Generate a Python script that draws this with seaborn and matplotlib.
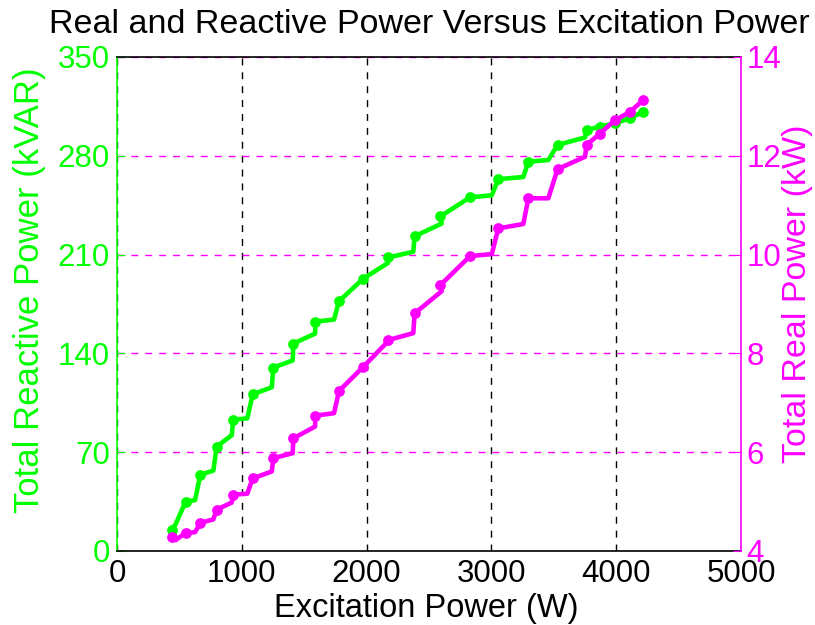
import numpy as np
import pandas as pd
import matplotlib
matplotlib.use("Agg")
import matplotlib.pyplot as plt
import seaborn as sns

# ---- data ----
excitation_w = [440, 470, 550, 625, 668, 772, 799, 919, 932, 1044, 1087, 1240, 1253,
                1408, 1413, 1587, 1590, 1739, 1779, 1974, 2170, 2174, 2374, 2385,
                2602, 2590, 2829, 3003, 3055, 3256, 3296, 3456, 3530, 3750, 3763,
                3870, 3990, 4111, 4217]
reactive_kvar = [15, 19, 35, 36, 54, 57, 74, 82, 93, 94, 111, 116, 130,
                 135, 147, 154, 162.5, 164, 177, 193, 204, 208, 212, 223,
                 232, 237, 250.6, 252, 263.4, 265, 275.8, 277, 287.7, 293, 298.3,
                 300.7, 303, 306.6, 311.3]
real_kw = [4.29, 4.22, 4.37, 4.38, 4.57, 4.64, 4.84, 4.98, 5.14, 5.16, 5.47, 5.61, 5.88,
           5.98, 6.28, 6.52, 6.74, 6.79, 7.24, 7.73, 8.24, 8.27, 8.41, 8.81,
           9.26, 9.38, 9.97, 10.01, 10.53, 10.62, 11.14, 11.14, 11.73, 11.98, 12.22,
           12.45, 12.72, 12.89, 13.13]
marked = [1, 0, 1, 0, 1, 0, 1, 0, 1, 0, 1, 0, 1,
          0, 1, 0, 1, 0, 1, 1, 0, 1, 0, 1,
          0, 1, 1, 0, 1, 0, 1, 0, 1, 0, 1,
          1, 1, 1, 1]

x_ticks = [0, 1000, 2000, 3000, 4000, 5000]
left_ticks = [0, 70, 140, 210, 280, 350]
right_ticks = [4, 6, 8, 10, 12, 14]

GREEN = "#00FF00"
MAGENTA = "#FF00FF"

df = pd.DataFrame({"x": excitation_w, "q": reactive_kvar, "p": real_kw, "m": marked})
dm = df[df["m"] == 1]

sns.set_style("white")
plt.rcParams["font.family"] = ["Liberation Sans", "DejaVu Sans"]

fig = plt.figure(figsize=(8.15, 6.25), dpi=100)
ax1 = fig.add_axes([117 / 815, 1 - 551 / 625, (741 - 117) / 815, (551 - 57) / 625])
ax2 = ax1.twinx()

sns.lineplot(data=df, x="x", y="q", sort=False, ax=ax1, color=GREEN, lw=3.3,
             estimator=None, zorder=3)
sns.scatterplot(data=dm, x="x", y="q", ax=ax1, color=GREEN, s=60, linewidth=0, zorder=4)
sns.lineplot(data=df, x="x", y="p", sort=False, ax=ax2, color=MAGENTA, lw=3.3,
             estimator=None, zorder=3)
sns.scatterplot(data=dm, x="x", y="p", ax=ax2, color=MAGENTA, s=60, linewidth=0, zorder=4)

ax1.set_xlim(0, 5000)
ax1.set_ylim(0, 350)
ax2.set_ylim(4, 14)
ax1.set_xticks(x_ticks)
ax1.set_yticks(left_ticks)
ax2.set_yticks(right_ticks)
ax1.set_xticklabels([str(v) for v in x_ticks])
ax1.set_yticklabels([str(v) for v in left_ticks])
ax2.set_yticklabels([str(v) for v in right_ticks])

ax1.grid(False)
ax2.grid(False)
ax1.set_axisbelow(True)
ax1.xaxis.grid(True, color="black", linestyle=(0, (5, 5)), linewidth=1.0)
ax1.yaxis.grid(True, color=MAGENTA, linestyle=(0, (5, 5)), linewidth=1.0)

for s in ["top", "bottom"]:
    ax1.spines[s].set_color("black")
    ax1.spines[s].set_linewidth(1.2)
ax1.spines["left"].set_color(GREEN)
ax1.spines["left"].set_linewidth(1.2)
ax1.spines["right"].set_visible(False)
for s in ["top", "bottom", "left"]:
    ax2.spines[s].set_visible(False)
ax2.spines["right"].set_color(MAGENTA)
ax2.spines["right"].set_linewidth(1.2)

ax1.tick_params(axis="x", direction="in", length=6, colors="black", labelsize=22.5, pad=6)
ax1.tick_params(axis="y", direction="in", length=6, colors=GREEN, labelsize=22.5, pad=5)
ax2.tick_params(axis="y", direction="in", length=6, colors=MAGENTA, labelsize=22.5, pad=4)

ax1.set_xlabel("Excitation Power (W)", fontsize=23.5, color="black")
ax1.set_ylabel("Total Reactive Power (kVAR)", fontsize=25, color=GREEN)
ax2.set_ylabel("Total Real Power (kW)", fontsize=24.5, color=MAGENTA)
ax1.xaxis.set_label_coords(0.495, (551 - 593) / 494)
ax1.yaxis.set_label_coords((46 - 117) / 624, 0.527)
ax2.yaxis.set_label_coords((782 - 117) / 624, 0.52)
ax1.set_title("Real and Reactive Power Versus Excitation Power", fontsize=24.5,
              color="black", pad=17)

fig.savefig("out.png", dpi=100)
